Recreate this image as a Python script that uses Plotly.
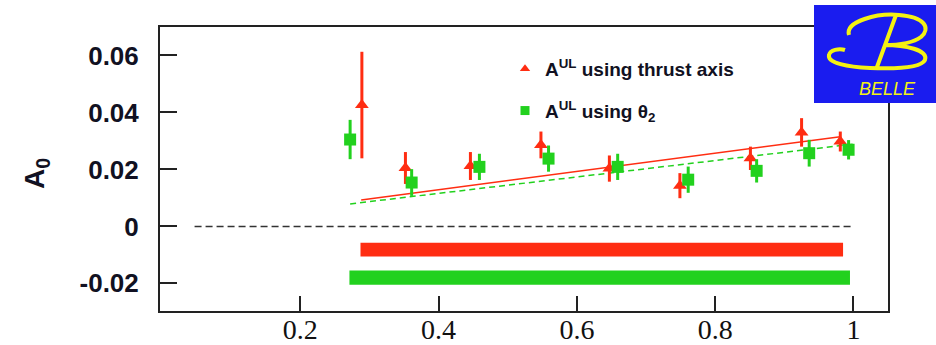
import plotly.graph_objects as go

# ---- measured asymmetry A0 versus x ----
x_thrust = [0.289, 0.352, 0.446, 0.548, 0.647, 0.749, 0.851, 0.925, 0.981]
a0_thrust = [0.0426, 0.0205, 0.0212, 0.0286, 0.0203, 0.0143, 0.0239, 0.0330, 0.0298]
err_thrust = [0.0187, 0.0056, 0.0049, 0.0047, 0.0046, 0.0044, 0.0041, 0.0050, 0.0035]

x_theta2 = [0.272, 0.361, 0.459, 0.559, 0.659, 0.761, 0.860, 0.936, 0.993]
a0_theta2 = [0.0305, 0.0154, 0.0209, 0.0238, 0.0209, 0.0164, 0.0195, 0.0257, 0.0269]
err_theta2 = [0.0069, 0.0047, 0.0046, 0.0046, 0.0046, 0.0046, 0.0041, 0.0047, 0.0034]

# linear fits (end points)
fit_x_thrust = [0.288, 0.981]
fit_y_thrust = [0.0093, 0.0315]
fit_x_theta2 = [0.272, 1.0]
fit_y_theta2 = [0.0079, 0.0289]

# systematic-error bands: x extent and y extent
band_x_thrust = [0.287, 0.985]
band_y_thrust = [-0.0106, -0.0057]
band_x_theta2 = [0.271, 0.995]
band_y_theta2 = [-0.0205, -0.0155]

zero_x = [0.047, 0.999]
zero_y = [0.0, 0.0]

x_ticks = [0.2, 0.4, 0.6, 0.8, 1.0]
x_ticklabels = ["0.2", "0.4", "0.6", "0.8", "1"]
y_ticks = [-0.02, 0, 0.02, 0.04, 0.06]
y_ticklabels = ["-0.02", "0", "0.02", "0.04", "0.06"]

RED = "#ff2d12"
GREEN = "#22d11e"
INK = "#111122"

W, H = 936, 345
ML, MR, MT, MB = 160, 48, 27, 34


def paper(xp, yp):
    """pixel position -> paper coordinates"""
    return (xp - ML) / (W - ML - MR), (H - MB - yp) / (H - MT - MB)


def svg_path(segments):
    out = []
    for cmd, pts in segments:
        coords = " ".join("%.4f,%.4f" % paper(*p) for p in pts)
        out.append(cmd + " " + coords)
    return " ".join(out)


def box(xs, ys):
    return [xs[0], xs[1], xs[1], xs[0], xs[0]], [ys[0], ys[0], ys[1], ys[1], ys[0]]


fig = go.Figure()

# systematic bands
bx, by = box(band_x_thrust, band_y_thrust)
fig.add_trace(go.Scatter(x=bx, y=by, mode="lines", fill="toself", fillcolor=RED,
                         line=dict(width=0, color=RED), showlegend=False, hoverinfo="skip"))
bx, by = box(band_x_theta2, band_y_theta2)
fig.add_trace(go.Scatter(x=bx, y=by, mode="lines", fill="toself", fillcolor=GREEN,
                         line=dict(width=0, color=GREEN), showlegend=False, hoverinfo="skip"))

# zero reference
fig.add_trace(go.Scatter(x=zero_x, y=zero_y, mode="lines",
                         line=dict(color="#333333", width=1.5, dash="7px,4px"),
                         showlegend=False, hoverinfo="skip"))

# fits
fig.add_trace(go.Scatter(x=fit_x_thrust, y=fit_y_thrust, mode="lines",
                         line=dict(color=RED, width=1.5), showlegend=False))
fig.add_trace(go.Scatter(x=fit_x_theta2, y=fit_y_theta2, mode="lines",
                         line=dict(color=GREEN, width=1.5, dash="6px,4px"), showlegend=False))

# data points
fig.add_trace(go.Scatter(
    x=x_thrust, y=a0_thrust, mode="markers",
    marker=dict(symbol="triangle-up", size=12, color=RED),
    error_y=dict(type="data", array=err_thrust, color=RED, thickness=3, width=0),
    showlegend=False))
fig.add_trace(go.Scatter(
    x=x_theta2, y=a0_theta2, mode="markers",
    marker=dict(symbol="square", size=12, color=GREEN),
    error_y=dict(type="data", array=err_theta2, color=GREEN, thickness=3, width=0),
    showlegend=False))

# legend entries
fig.add_trace(go.Scatter(x=[None], y=[None], mode="markers",
                         marker=dict(symbol="triangle-up", size=9, color=RED),
                         name="A<sup>UL</sup> using thrust axis", legendgroup="a"))
fig.add_trace(go.Scatter(x=[None], y=[None], mode="markers",
                         marker=dict(symbol="square", size=9, color=GREEN),
                         name="A<sup>UL</sup> using θ<sub>2</sub>", legendgroup="b"))

# experiment logo
lx0, ly0 = paper(814, 103)
lx1, ly1 = paper(936, 5)
shapes = [dict(type="rect", xref="paper", yref="paper", x0=lx0, y0=ly0, x1=lx1, y1=ly1,
               fillcolor="#1a1cef", line=dict(width=0), layer="above")]
b_path = svg_path([
    ("M", [(849, 35)]),
    ("C", [(845, 21), (878, 13), (899, 15)]),
    ("C", [(925, 17), (931, 28), (921, 37)]),
    ("C", [(913, 43), (898, 45), (884, 45)]),
    ("M", [(896, 15)]),
    ("L", [(877, 67)]),
    ("M", [(884, 45)]),
    ("C", [(905, 45), (929, 50), (925, 60)]),
    ("C", [(921, 68), (895, 69), (870, 68)]),
    ("C", [(848, 67), (827, 63), (829, 55)]),
    ("C", [(830, 50), (839, 48), (845, 50)]),
])
shapes.append(dict(type="path", xref="paper", yref="paper", path=b_path,
                   line=dict(color="#f4f212", width=4), layer="above"))

bel_x, bel_y = paper(887, 89)
ttl_x, ttl_y = paper(36, 174)
annotations = [
    dict(text="<i>BELLE</i>", xref="paper", yref="paper", x=bel_x, y=bel_y,
         xanchor="center", yanchor="middle", showarrow=False,
         font=dict(family="Liberation Sans", size=18, color="#f4f212")),
    dict(text="<b>A<sub>0</sub></b>", xref="paper", yref="paper", x=ttl_x, y=ttl_y,
         xanchor="center", yanchor="middle", showarrow=False, textangle=-90,
         font=dict(family="Liberation Sans", size=28, color=INK)),
]

leg_x, leg_y = paper(505, 50)

fig.update_layout(
    width=W, height=H,
    margin=dict(l=ML, r=MR, t=MT, b=MB, autoexpand=False),
    paper_bgcolor="white", plot_bgcolor="white",
    shapes=shapes, annotations=annotations,
    showlegend=True,
    legend=dict(x=leg_x, y=leg_y, xanchor="left", yanchor="top",
                bgcolor="rgba(0,0,0,0)", traceorder="grouped", tracegroupgap=14,
                font=dict(family="Liberation Sans", size=19, color=INK, weight="bold")),
    xaxis=dict(range=[-0.003, 1.05], tickvals=x_ticks, ticktext=x_ticklabels,
               ticks="inside", ticklen=15, tickwidth=1.5, tickcolor="#222",
               showline=True, linewidth=2, linecolor="#222", mirror=True,
               showgrid=False, zeroline=False, ticklabelstandoff=-8,
               tickfont=dict(family="Liberation Serif", size=28, color="#111")),
    yaxis=dict(range=[-0.0297, 0.070], tickvals=y_ticks, ticktext=y_ticklabels,
               ticks="inside", ticklen=17, tickwidth=1.5, tickcolor="#222",
               showline=True, linewidth=2, linecolor="#222", mirror=True,
               showgrid=False, zeroline=False, ticklabelstandoff=14,
               tickfont=dict(family="Liberation Sans", size=26, color=INK, weight="bold")),
)

fig.write_html("out.html")
